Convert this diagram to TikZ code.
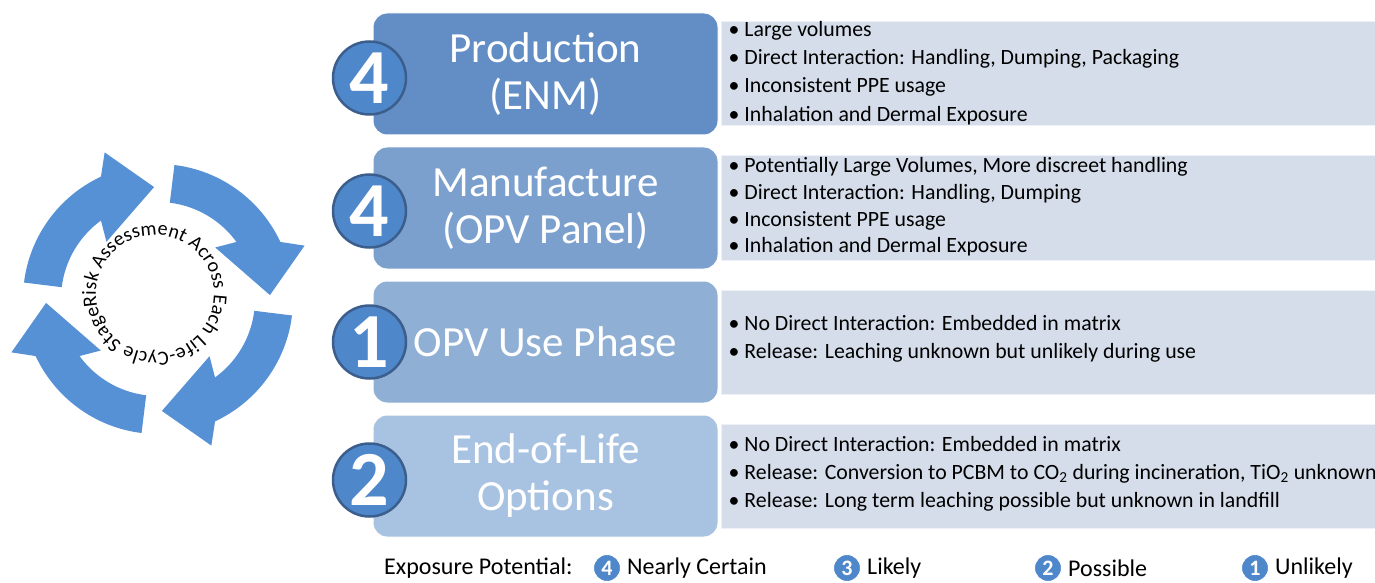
\documentclass[tikz,border=0pt]{standalone}
\usepackage{fontspec}
\setmainfont{Carlito}
\usetikzlibrary{positioning,calc,decorations.text}

\definecolor{prodblue}{RGB}{98,142,197}
\definecolor{manublue}{RGB}{123,160,206}
\definecolor{useblue}{RGB}{143,175,213}
\definecolor{eolblue}{RGB}{168,194,225}
\definecolor{listfill}{RGB}{213,221,234}
\definecolor{ringblue}{RGB}{79,135,203}
\definecolor{ringedge}{RGB}{60,94,140}
\definecolor{cycblue}{RGB}{86,144,213}
\newcommand{\ringfont}{\fontsize{20}{20}\selectfont}

\begin{document}
\begin{tikzpicture}[x=1pt, y=1pt,
  stage/.style={draw=white, line width=1pt, rounded corners=14pt, minimum width=345pt,
               minimum height=122pt, inner sep=0pt, text=white, align=center,
               font=\fontsize{43}{47}\selectfont},
  facts/.style={fill=listfill, draw=white!60!listfill, line width=1pt,
               minimum width=655pt, minimum height=104pt, inner sep=0pt},
  factlist/.style={anchor=west, align=left, inner sep=0pt, font=\fontsize{21.8}{28.3}\selectfont},
  rank/.style={circle, fill=ringblue, draw=ringedge, line width=2.5pt, minimum size=73pt,
               inner sep=0pt, text=white, font=\bfseries\fontsize{78}{78}\selectfont},
  key/.style={circle, fill=ringblue, draw=white, line width=1pt, minimum size=27pt,
               inner sep=0pt, text=white, font=\bfseries\fontsize{22}{22}\selectfont},
  keytext/.style={inner sep=1pt, font=\fontsize{24}{24}\selectfont}
]
\useasboundingbox (0,0) rectangle (1375,582);

% life-cycle stages
\node[stage, fill=prodblue] (prod) at (545.5,508) {Production\\(ENM)};
\node[stage, fill=manublue, below=11pt of prod] (manu) {Manufacture\\(OPV Panel)};
\node[stage, fill=useblue, below=11pt of manu] (use) {OPV Use Phase};
\node[stage, fill=eolblue, below=11pt of use] (eol) {End-of-Life\\Options};

% exposure notes
\node[facts, right=2pt of prod] (prodf) {};
\node[facts, right=2pt of manu] (manuf) {};
\node[facts, right=2pt of use] (usef) {};
\node[facts, right=2pt of eol] (eolf) {};
\node[factlist] (prodl) at ([xshift=8pt, yshift=1pt]prodf.west) {\textbullet\ Large volumes\\
  \textbullet\ Direct Interaction: Handling, Dumping, Packaging\\
  \textbullet\ Inconsistent PPE usage\\
  \textbullet\ Inhalation and Dermal Exposure};
\node[factlist, font=\fontsize{21.8}{26.7}\selectfont] (manul) at ([xshift=8pt, yshift=1pt]manuf.west) {\textbullet\ Potentially Large Volumes, More discreet handling\\
  \textbullet\ Direct Interaction: Handling, Dumping\\
  \textbullet\ Inconsistent PPE usage\\
  \textbullet\ Inhalation and Dermal Exposure};
\node[factlist] (usel) at ([xshift=8pt, yshift=3pt]usef.west) {\textbullet\ No Direct Interaction: Embedded in matrix\\
  \textbullet\ Release: Leaching unknown but unlikely during use};
\node[factlist] (eoll) at ([xshift=8pt, yshift=2pt]eolf.west) {\textbullet\ No Direct Interaction: Embedded in matrix\\
  \textbullet\ Release: Conversion to PCBM to CO\textsubscript{2} during incineration, TiO\textsubscript{2} unknown\\
  \textbullet\ Release: Long term leaching possible but unknown in landfill};

% exposure ranks
\node[rank] (prodr) at ([xshift=-3pt, yshift=-4pt]prod.west) {4};
\node[rank] (manur) at ([xshift=-3pt, yshift=-3pt]manu.west) {4};
\node[rank] (user) at ([xshift=-3pt]use.west) {1};
\node[rank] (eolr) at ([xshift=-3pt, yshift=-4pt]eol.west) {2};

% legend
\node[keytext, anchor=west] (keyhead) at (383,14) {Exposure Potential:};
\node[key] (key4) at (607,14) {4};
\node[keytext, right=5pt of key4] (key4t) {Nearly Certain};
\node[key] (key3) at (847,14) {3};
\node[keytext, right=5pt of key3] (key3t) {Likely};
\node[key] (key2) at (1048,14) {2};
\node[keytext, right=5pt of key2] (key2t) {Possible};
\node[key] (key1) at (1255,14) {1};
\node[keytext, right=5pt of key1] (key1t) {Unlikely};

% cycle of arrows
\coordinate (hub) at (158,283);
\begin{scope}[shift={(hub)}]
\foreach \tip in {92,2,-88,-178}
  \fill[cycblue] ({\tip+23}:135) -- ({\tip+18}:156) -- (\tip:112) -- ({\tip+40}:77)
    -- ({\tip+34}:97) arc[start angle=\tip+34, end angle=\tip+81, radius=97]
    -- ({\tip+81}:135) arc[start angle=\tip+81, end angle=\tip+23, radius=135] -- cycle;
\end{scope}
\begin{scope}[shift={($(hub)+(-3,5)$)}]
\path[decorate, decoration={text along path, text align={fit to path},
    text={|\ringfont|Risk Assessment Across Each Life-Cycle Stage}}]
  (192:59) arc[start angle=192, end angle=-168, radius=59];
\end{scope}
\end{tikzpicture}
\end{document}
